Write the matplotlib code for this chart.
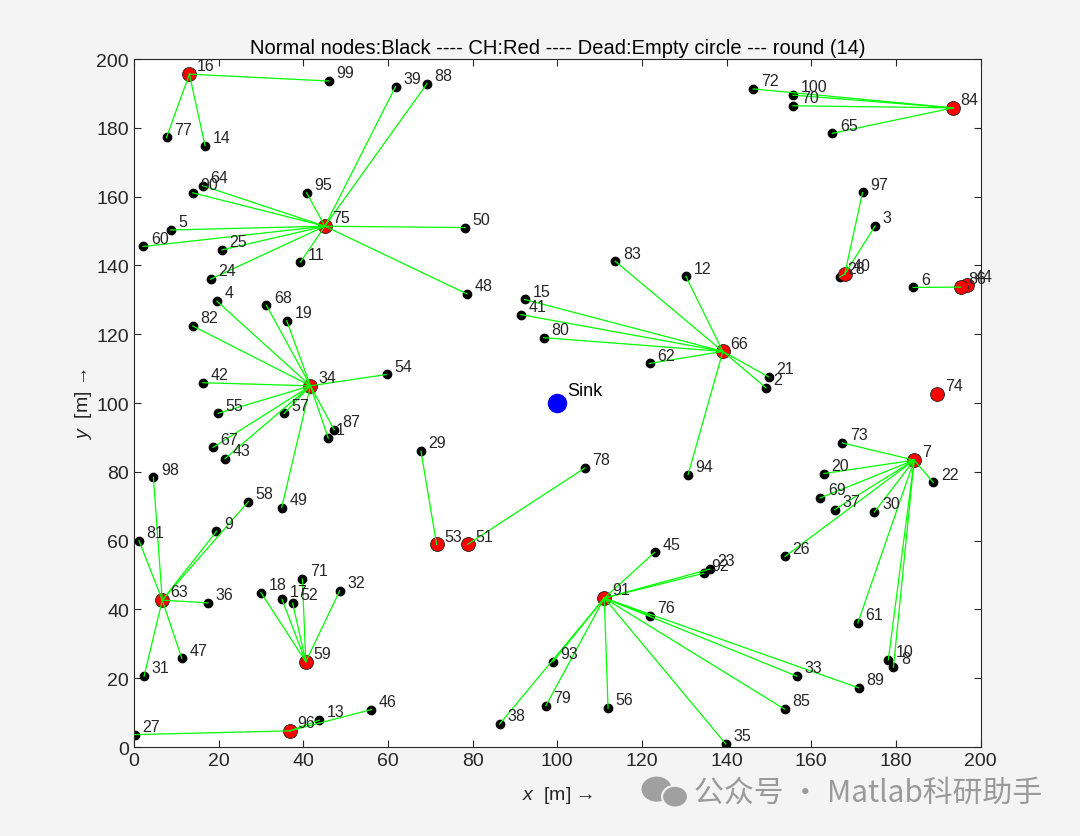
import matplotlib
matplotlib.use("Agg")
import matplotlib.pyplot as plt
from matplotlib.patches import Ellipse

plt.rcParams['font.family'] = ['Liberation Sans', 'DejaVu Sans']
plt.rcParams['mathtext.fontset'] = 'custom'
plt.rcParams['mathtext.it'] = 'Liberation Sans:italic'
plt.rcParams['mathtext.rm'] = 'Liberation Sans'

# node positions (id 1..100)
node_x = [45.9, 149.3, 175.1, 19.6, 8.7, 184.1, 184.3, 179.4, 19.5, 178.2,
          39.3, 130.4, 43.8, 16.8, 92.3, 13.1, 35.0, 30.0, 36.1, 163.0,
          149.9, 188.8, 136.0, 18.1, 20.8, 153.8, 0.2, 166.7, 67.8, 174.9,
          2.4, 48.6, 156.6, 41.7, 139.8, 17.5, 165.5, 86.4, 61.8, 167.9,
          91.4, 16.3, 21.5, 196.7, 123.0, 56.1, 11.3, 78.7, 34.9, 78.2,
          78.8, 37.5, 71.5, 59.7, 19.9, 112.0, 35.5, 27.0, 40.6, 2.2,
          171.0, 121.8, 6.7, 16.2, 165.0, 139.1, 18.7, 31.3, 162.1, 155.7,
          39.8, 146.3, 167.3, 189.7, 45.1, 121.8, 7.7, 106.5, 97.3, 96.8,
          1.2, 13.9, 113.7, 193.5, 153.7, 195.3, 47.3, 69.2, 171.2, 13.9,
          111.1, 134.6, 99.0, 130.9, 40.8, 36.8, 172.1, 4.6, 46.1, 155.7]
node_y = [89.8, 104.4, 151.5, 129.6, 150.3, 133.6, 83.4, 23.2, 62.7, 25.4,
          140.9, 136.8, 7.8, 174.8, 130.1, 195.6, 42.9, 44.9, 123.9, 79.5,
          107.6, 76.9, 51.7, 136.0, 144.5, 55.4, 3.6, 136.6, 86.0, 68.3,
          20.6, 45.4, 20.6, 105.0, 0.9, 41.9, 69.0, 6.7, 192.0, 137.5,
          125.7, 105.9, 83.8, 134.3, 56.6, 10.9, 25.8, 131.7, 69.6, 151.0,
          58.9, 41.8, 58.9, 108.3, 97.0, 11.3, 97.0, 71.3, 24.8, 145.5,
          36.1, 111.5, 42.7, 163.2, 178.4, 115.0, 87.1, 128.4, 72.4, 186.4,
          48.8, 191.3, 88.4, 102.6, 151.4, 38.2, 177.2, 81.1, 12.0, 119.0,
          60.0, 122.4, 141.2, 185.8, 11.0, 133.7, 92.2, 192.8, 17.2, 161.1,
          43.3, 50.5, 24.8, 79.2, 161.1, 4.7, 161.2, 78.4, 193.6, 189.5]

# cluster head each node belongs to (0 = node is itself a CH)
cluster_of = [34, 66, 40, 34, 75, 86, 0, 7, 63, 7,
              75, 66, 96, 16, 66, 0, 59, 59, 34, 7,
              66, 7, 91, 75, 75, 7, 96, 40, 53, 7,
              63, 59, 91, 0, 91, 63, 7, 91, 75, 0,
              66, 34, 34, 0, 91, 96, 63, 75, 34, 75,
              0, 59, 0, 34, 34, 91, 34, 63, 0, 75,
              7, 66, 0, 75, 84, 0, 34, 34, 7, 84,
              59, 84, 7, 0, 0, 91, 16, 51, 91, 66,
              63, 34, 66, 0, 91, 0, 34, 75, 91, 75,
              0, 91, 91, 66, 75, 0, 40, 63, 16, 84]

sink_x, sink_y = 100, 100
round_no = 14

fig = plt.figure(figsize=(10.8, 8.37), dpi=100, facecolor='#f4f4f4')
ax = fig.add_axes([0.124, 0.1063, 0.784, 0.822])
ax.set_facecolor('white')

# nodes
for i in range(100):
    if cluster_of[i] == 0:
        ax.plot(node_x[i], node_y[i], 'o', ms=10, mfc='red', mec='#202020', mew=0.6, zorder=2)
    else:
        ax.plot(node_x[i], node_y[i], 'o', ms=6, mfc='black', mec='black', zorder=2)
    ax.text(node_x[i] + 1.8, node_y[i] + 2.4, str(i + 1), fontsize=11.5,
            color='#262626', va='center', ha='left', zorder=4)

# links node -> CH
for i in range(100):
    ch = cluster_of[i]
    if ch > 0:
        ax.plot([node_x[i], node_x[ch - 1]], [node_y[i], node_y[ch - 1]],
                color=(0, 1, 0), lw=0.9, zorder=3)

# sink
ax.plot(sink_x, sink_y, 'o', ms=13, mfc='blue', mec='blue', zorder=2)
ax.text(sink_x + 2.3, sink_y + 3.5, 'Sink', fontsize=13, color='black', va='center', zorder=4)

ax.set_xlim(0, 200)
ax.set_ylim(0, 200)
ax.set_xticks(range(0, 201, 20))
ax.set_yticks(range(0, 201, 20))
ax.tick_params(direction='in', top=True, right=True, labelsize=14, colors='#262626', length=5)
for s in ax.spines.values():
    s.set_color('#262626')
    s.set_linewidth(0.8)

ax.set_title('Normal nodes:Black ---- CH:Red ---- Dead:Empty circle --- round (%d)' % round_no,
             fontsize=14.5, color='black', pad=4)
ax.set_xlabel('$x$  [m] →', fontsize=14, color='#262626', labelpad=11)
ax.set_ylabel('$y$  [m] →', fontsize=14, color='#262626', labelpad=2)

# watermark (wechat style logo + text)
fig.patches.append(Ellipse((0.608, 0.056), 0.028, 0.030, transform=fig.transFigure,
                           fc='#a0a0a0', ec='none'))
fig.patches.append(Ellipse((0.625, 0.047), 0.024, 0.026, transform=fig.transFigure,
                           fc='#a0a0a0', ec='#f4f4f4', lw=1.5))
fig.text(0.643, 0.053, '公众号 · Matlab科研助手', fontsize=21.5, color='#9a9a9a',
         family=['Noto Sans CJK SC', 'DejaVu Sans'], va='center', ha='left')

fig.savefig('out.png', dpi=100, facecolor=fig.get_facecolor())
